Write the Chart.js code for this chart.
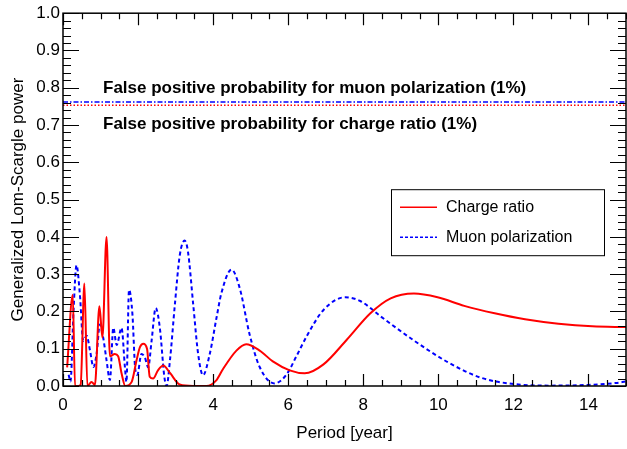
<!DOCTYPE html>
<html>
<head>
<meta charset="utf-8">
<script src="https://cdn.jsdelivr.net/npm/chart.js@4.4.1/dist/chart.umd.min.js"></script>
<style>
  html, body { margin: 0; padding: 0; background: #fff; }
</style>
</head>
<body>
<canvas id="mainChart" width="627" height="449"></canvas>
<script>
// values
const chargePeriod = [0.11, 0.26, 0.32, 0.41, 0.47, 0.57, 0.65, 0.76, 0.85, 0.97, 1.05, 1.16, 1.25, 1.38, 1.47, 1.56, 1.66, 1.83, 1.96, 2.05, 2.14, 2.24, 2.31, 2.40, 2.53, 2.67, 2.85, 3.11, 3.47, 3.82, 4.09, 4.26, 4.62, 4.88, 5.24, 5.59, 6.04, 6.44, 6.94, 7.56, 8.19, 8.73, 9.35, 9.98, 10.69, 11.50, 12.31, 13.20, 14.10, 15.0];
const chargePower  = [0.05, 0.245, 0.0, 0.0, 0.003, 0.275, 0.0, 0.011, 0.003, 0.214, 0.13, 0.40, 0.08, 0.086, 0.08, 0.034, 0.0, 0.011, 0.069, 0.104, 0.113, 0.099, 0.025, 0.02, 0.042, 0.055, 0.035, 0.004, 0.0, 0.0, 0.016, 0.045, 0.095, 0.112, 0.095, 0.066, 0.042, 0.034, 0.058, 0.124, 0.195, 0.235, 0.248, 0.238, 0.215, 0.195, 0.179, 0.167, 0.160, 0.158];

const muonPeriod = [0.15, 0.2, 0.28, 0.36, 0.45, 0.54, 0.63, 0.72, 0.81, 0.9, 0.98, 1.07, 1.16, 1.25, 1.34, 1.43, 1.56, 1.65, 1.69, 1.76, 1.85, 1.92, 1.98, 2.09, 2.18, 2.27, 2.36, 2.47, 2.58, 2.7, 2.76, 2.85, 2.98, 3.11, 3.24, 3.33, 3.47, 3.6, 3.73, 3.91, 4.09, 4.22, 4.49, 4.71, 4.97, 5.24, 5.64, 5.95, 6.22, 6.49, 6.94, 7.52, 7.92, 8.46, 9.35, 10.25, 11.14, 12.04, 13.0, 14.0, 14.72, 15.0];
const muonPower  = [0.03, 0.012, 0.2, 0.324, 0.245, 0.121, 0.135, 0.095, 0.051, 0.09, 0.165, 0.13, 0.069, 0.016, 0.156, 0.11, 0.156, 0.05, 0.011, 0.258, 0.192, 0.051, 0.03, 0.086, 0.077, 0.05, 0.121, 0.209, 0.156, 0.025, 0.0, 0.069, 0.218, 0.35, 0.39, 0.36, 0.218, 0.086, 0.029, 0.086, 0.183, 0.249, 0.312, 0.262, 0.139, 0.051, 0.007, 0.03, 0.08, 0.133, 0.204, 0.238, 0.228, 0.187, 0.122, 0.064, 0.022, 0.005, 0.001, 0.003, 0.008, 0.012];

const thresholdPeriod = [0, 15];
const muonThreshold = 0.762;
const chargeThreshold = 0.753;

const xTickValues = [0, 2, 4, 6, 8, 10, 12, 14];
const yTickValues = [0, 0.1, 0.2, 0.3, 0.4, 0.5, 0.6, 0.7, 0.8, 0.9, 1.0];

const labels = {
    charge: 'Charge ratio',
    muon: 'Muon polarization',
    muonFpp: 'False positive probability for muon polarization (1%)',
    chargeFpp: 'False positive probability for charge ratio (1%)',
    xTitle: 'Period [year]',
    yTitle: 'Generalized Lom-Scargle power'
};

const FONT = '"Liberation Sans", Arial, Helvetica, sans-serif';
const RED = '#ff0000', BLUE = '#0000ff';

function toXY(xs, ys) { return xs.map((x, i) => ({ x: x, y: ys[i] })); }

// frame, inward ticks, legend and the two annotation lines
const decorations = {
    id: 'decorations',
    afterDatasetsDraw(chart) {
        const ctx = chart.ctx, a = chart.chartArea;
        const xs = chart.scales.x, ys = chart.scales.y;
        ctx.save();
        ctx.strokeStyle = '#000';
        ctx.lineWidth = 1.5;
        ctx.strokeRect(a.left, a.top, a.right - a.left, a.bottom - a.top);

        ctx.lineWidth = 1.2;
        ctx.beginPath();
        for (let v = 0; v <= 15.001; v += 0.5) {
            const px = Math.round(xs.getPixelForValue(v)) + 0.5;
            const len = (Math.abs(v / 2 - Math.round(v / 2)) < 1e-6) ? 12 : 6;
            ctx.moveTo(px, a.bottom); ctx.lineTo(px, a.bottom - len);
            ctx.moveTo(px, a.top); ctx.lineTo(px, a.top + len);
        }
        for (let k = 0; k <= 50; k++) {
            const py = Math.round(ys.getPixelForValue(k * 0.02)) + 0.5;
            const len = (k % 5 === 0) ? 16 : 8;
            ctx.moveTo(a.left, py); ctx.lineTo(a.left + len, py);
            ctx.moveTo(a.right, py); ctx.lineTo(a.right - len, py);
        }
        ctx.stroke();

        // annotation texts
        ctx.fillStyle = '#000';
        ctx.font = 'bold 17px ' + FONT;
        ctx.textBaseline = 'middle';
        ctx.textAlign = 'left';
        ctx.fillText(labels.muonFpp, a.left + 40, a.top + 75);
        ctx.fillText(labels.chargeFpp, a.left + 40, a.top + 111);

        // legend
        const lx = a.left + 328, ly = a.top + 176, lw = 213, lh = 66;
        ctx.fillStyle = '#fff';
        ctx.fillRect(lx, ly, lw, lh);
        ctx.lineWidth = 1;
        ctx.strokeStyle = '#000';
        ctx.strokeRect(lx + 0.5, ly + 0.5, lw, lh);
        ctx.font = '16px ' + FONT;
        ctx.fillStyle = '#000';
        const entries = [
            { text: labels.charge, color: RED, dash: [] },
            { text: labels.muon, color: BLUE, dash: [3, 2] }
        ];
        entries.forEach((e, i) => {
            const y = ly + 18 + i * 30;
            ctx.strokeStyle = e.color;
            ctx.lineWidth = 1.5;
            ctx.setLineDash(e.dash);
            ctx.beginPath();
            ctx.moveTo(lx + 9, y); ctx.lineTo(lx + 46, y);
            ctx.stroke();
            ctx.setLineDash([]);
            ctx.fillText(e.text, lx + 55, y);
        });
        ctx.restore();
    }
};

const ctx = document.getElementById('mainChart').getContext('2d');
const chart = new Chart(ctx, {
    type: 'line',
    data: {
        datasets: [
            { label: labels.charge, data: toXY(chargePeriod, chargePower), borderColor: RED, borderWidth: 2, pointRadius: 0, cubicInterpolationMode: 'monotone', fill: false },
            { label: labels.muon, data: toXY(muonPeriod, muonPower), borderColor: BLUE, borderWidth: 2, borderDash: [4, 3], pointRadius: 0, cubicInterpolationMode: 'monotone', fill: false },
            { label: 'muon fpp', data: toXY(thresholdPeriod, thresholdPeriod.map(() => muonThreshold)), borderColor: BLUE, borderWidth: 1.5, borderDash: [5, 2, 1.5, 2], pointRadius: 0, fill: false },
            { label: 'charge fpp', data: toXY(thresholdPeriod, thresholdPeriod.map(() => chargeThreshold)), borderColor: RED, borderWidth: 1.5, borderDash: [1.5, 2], pointRadius: 0, fill: false }
        ]
    },
    options: {
        responsive: false,
        animation: false,
        devicePixelRatio: 1,
        layout: { padding: { top: 7, right: 1, left: 0, bottom: 0 } },
        plugins: { legend: { display: false }, tooltip: { enabled: false } },
        scales: {
            x: {
                type: 'linear', min: 0, max: 15,
                afterBuildTicks: s => { s.ticks = xTickValues.map(v => ({ value: v })); },
                afterFit: s => { s.height = 63; },
                grid: { display: false, drawTicks: false },
                border: { display: false },
                ticks: { color: '#000', padding: 9, maxRotation: 0, autoSkip: false, font: { family: FONT, size: 17 } },
                title: { display: true, text: labels.xTitle, color: '#000', padding: { top: 0, bottom: 5 }, font: { family: FONT, size: 17 } }
            },
            y: {
                type: 'linear', min: 0, max: 1,
                afterBuildTicks: s => { s.ticks = yTickValues.map(v => ({ value: v })); },
                afterFit: s => { s.width = 63; },
                grid: { display: false, drawTicks: false },
                border: { display: false },
                ticks: { color: '#000', padding: 3, autoSkip: false, callback: v => v.toFixed(1), font: { family: FONT, size: 17 } },
                title: { display: true, text: labels.yTitle, color: '#000', padding: { top: 8, bottom: 0 }, font: { family: FONT, size: 17 } }
            }
        }
    },
    plugins: [decorations]
});
</script>
</body>
</html>
